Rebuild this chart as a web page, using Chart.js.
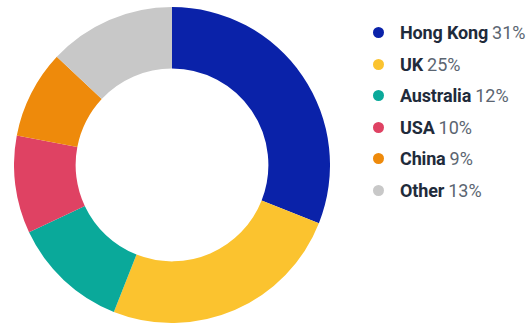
<!DOCTYPE html>
<html>
<head>
<meta charset="utf-8">
<script src="https://cdn.jsdelivr.net/npm/chart.js@4/dist/chart.umd.min.js"></script>
<style>
  html, body { margin: 0; padding: 0; background: #ffffff; }
  body { width: 529px; height: 324px; position: relative; overflow: hidden; font-family: Roboto, "Noto Sans", sans-serif; }
  #donut { position: absolute; left: 14px; top: 7px; }
  #legend { position: absolute; left: 373px; top: 17px; margin: 0; padding: 0; list-style: none; }
  #legend li { height: 31.5px; display: flex; align-items: center; white-space: nowrap; }
  #legend .dot { width: 11px; height: 11px; border-radius: 50%; margin-right: 16px; flex: none; }
  #legend .name { font-weight: 700; font-size: 18px; color: #1f2b3b; margin-right: 4px; letter-spacing: -0.15px; }
  #legend .pct { font-weight: 400; font-size: 18px; color: #5b6571; }
</style>
</head>
<body>
<canvas id="donut" width="316" height="316"></canvas>
<ul id="legend"></ul>
<script>
  // Share of total by country, in percent
  const countries = ['Hong Kong', 'UK', 'Australia', 'USA', 'China', 'Other'];
  const shares = [31, 25, 12, 10, 9, 13];
  const sliceColors = ['#0a22a9', '#fbc32f', '#0aa99a', '#df4263', '#ee8a0b', '#c8c8c8'];

  const chart = new Chart(document.getElementById('donut'), {
    type: 'doughnut',
    data: {
      labels: countries,
      datasets: [{
        data: shares,
        backgroundColor: sliceColors,
        borderWidth: 0,
        hoverOffset: 0
      }]
    },
    options: {
      responsive: false,
      animation: false,
      cutout: '61%',
      layout: { padding: 0 },
      plugins: {
        legend: { display: false },
        tooltip: { enabled: false }
      }
    }
  });

  // Legend list built from the chart's own labels and values
  const legendEl = document.getElementById('legend');
  chart.data.labels.forEach((label, i) => {
    const ds = chart.data.datasets[0];
    const li = document.createElement('li');
    const dot = document.createElement('span');
    dot.className = 'dot';
    dot.style.background = ds.backgroundColor[i];
    const name = document.createElement('span');
    name.className = 'name';
    name.textContent = label;
    const pct = document.createElement('span');
    pct.className = 'pct';
    pct.textContent = ds.data[i] + '%';
    li.append(dot, name, pct);
    legendEl.appendChild(li);
  });
</script>
</body>
</html>
